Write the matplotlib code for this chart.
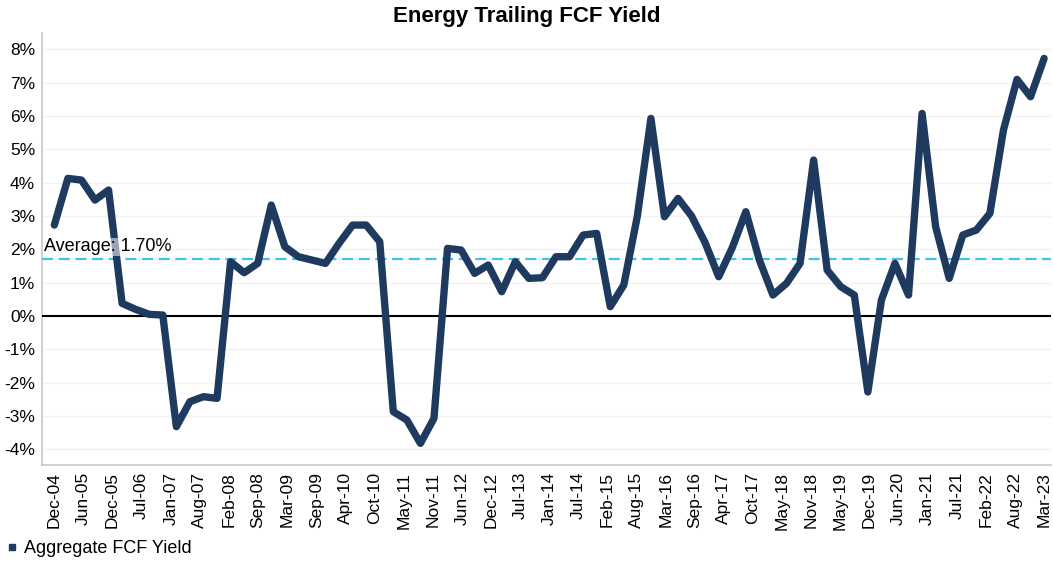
import numpy as np
import matplotlib
matplotlib.use("Agg")
import matplotlib.pyplot as plt
from matplotlib.lines import Line2D
from matplotlib.ticker import FuncFormatter
import matplotlib.transforms as mtransforms

plt.rcParams['font.family'] = ['Liberation Sans', 'DejaVu Sans']

# --- quarterly aggregate FCF yield, Dec-04 .. Mar-23 (%) ---
fcf_yield = [2.73, 4.13, 4.08, 3.48, 3.78, 0.38, 0.20, 0.05, 0.03, -3.32,
             -2.57, -2.42, -2.47, 1.63, 1.30, 1.58, 3.33, 2.08, 1.78, 1.68,
             1.58, 2.18, 2.73, 2.73, 2.23, -2.87, -3.12, -3.82, -3.07, 2.03,
             1.98, 1.28, 1.53, 0.73, 1.63, 1.13, 1.15, 1.78, 1.78, 2.43,
             2.48, 0.28, 0.93, 3.00, 5.93, 2.98, 3.53, 3.00, 2.20, 1.18,
             2.05, 3.13, 1.68, 0.63, 0.98, 1.58, 4.68, 1.38, 0.88, 0.63,
             -2.28, 0.48, 1.58, 0.63, 6.08, 2.68, 1.13, 2.43, 2.58, 3.08,
             5.58, 7.10, 6.58, 7.73]
average = 1.70

tick_labels = ["Dec-04", "Jun-05", "Dec-05", "Jul-06", "Jan-07", "Aug-07", "Feb-08",
               "Sep-08", "Mar-09", "Sep-09", "Apr-10", "Oct-10", "May-11", "Nov-11",
               "Jun-12", "Dec-12", "Jul-13", "Jan-14", "Jul-14", "Feb-15", "Aug-15",
               "Mar-16", "Sep-16", "Apr-17", "Oct-17", "May-18", "Nov-18", "May-19",
               "Dec-19", "Jun-20", "Jan-21", "Jul-21", "Feb-22", "Aug-22", "Mar-23"]

navy = "#1f3a5f"
x = np.arange(len(fcf_yield))

fig = plt.figure(figsize=(10.53, 5.65), dpi=100)
ax = fig.add_axes([0.040, 0.177, 0.958, 0.765])

ax.plot(x, fcf_yield, color=navy, lw=5.3, solid_joinstyle='round',
        solid_capstyle='round', zorder=4)
ax.axhline(0, color="black", lw=1.5, zorder=3)
ax.axhline(average, color="#3cc3f2", lw=1.6, ls=(0, (5, 2.5)), zorder=3)

trans = mtransforms.blended_transform_factory(ax.transAxes, ax.transData)
ax.text(0.002, average + 0.12, f"Average: {average:.2f}%", transform=trans,
        fontsize=13, ha='left', va='bottom', zorder=5,
        bbox=dict(facecolor="white", alpha=0.55, edgecolor="none", pad=0.5))

ax.set_ylim(-4.47, 8.5)
ax.set_xlim(-0.9, 73.5)
ax.set_yticks(range(-4, 9))
ax.yaxis.set_major_formatter(FuncFormatter(lambda v, p: f"{v:.0f}%"))
ax.set_xticks(np.linspace(0, len(fcf_yield) - 1, len(tick_labels)))
ax.set_xticklabels(tick_labels, rotation=90)
ax.tick_params(axis='both', length=0, labelsize=12.5, pad=5)
ax.grid(axis='y', color="#f2f2f2", lw=1)
ax.set_axisbelow(True)

for s in ["top", "right"]:
    ax.spines[s].set_visible(False)
for s in ["left", "bottom"]:
    ax.spines[s].set_color("#c8c8c8")
    ax.spines[s].set_linewidth(1.2)

fig.text(0.5, 0.97, "Energy Trailing FCF Yield", fontsize=16, fontweight='bold',
         ha='center', va='center')

handle = Line2D([], [], marker='s', ls='none', color=navy, markersize=5)
fig.legend([handle], ["Aggregate FCF Yield"], loc='lower left', bbox_to_anchor=(-0.008, -0.015),
           frameon=False, fontsize=13, handlelength=0.5, handletextpad=0.4)

fig.savefig("out.png", dpi=100)
